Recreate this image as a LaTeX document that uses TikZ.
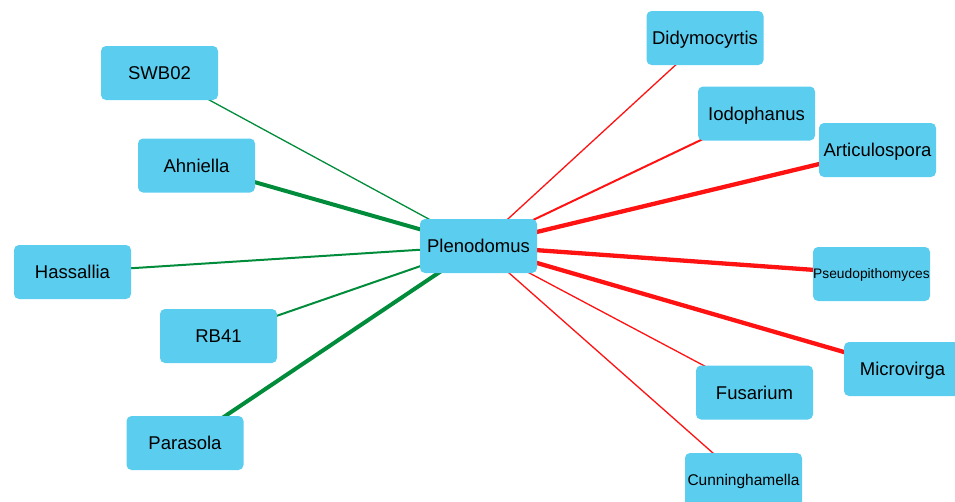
\documentclass[tikz,border=0pt]{standalone}
\usepackage{fontspec}
\setmainfont{Liberation Sans}
\usetikzlibrary{backgrounds}
\definecolor{boxblue}{RGB}{91,206,240}
\definecolor{egreen}{RGB}{0,140,58}
\definecolor{ered}{RGB}{255,18,18}
\begin{document}
\begin{tikzpicture}[x=1pt,y=-1pt,
  box/.style={fill=boxblue, rounded corners=5pt, minimum width=117pt, minimum height=54pt, inner sep=0pt, text height=13.25pt, text depth=0pt, font=\fontsize{18.5}{20}\selectfont},
  smallbox/.style={box, text height=9.9pt, font=\fontsize{13.8}{15}\selectfont},
  midbox/.style={box, text height=11.1pt, font=\fontsize{15.5}{17}\selectfont},
  gthin/.style={draw=egreen, line width=1.3pt},
  gmed/.style={draw=egreen, line width=2pt},
  gthick/.style={draw=egreen, line width=4pt},
  rthin/.style={draw=ered, line width=1.3pt},
  rmed/.style={draw=ered, line width=2pt},
  rthick/.style={draw=ered, line width=4.3pt}]
\useasboundingbox (0,0) rectangle (955,501);
\clip (0,0) rectangle (955,501);
\node[box] (pl) at (478.5,246) {Plenodomus};
\node[box] (di) at (705,38) {Didymocyrtis};
\node[box] (io) at (756.5,113.5) {Iodophanus};
\node[box] (ar) at (877.5,150) {Articulospora};
\node[smallbox] (ps) at (871.5,274) {Pseudopithomyces};
\node[box] (mi) at (902.5,369) {Microvirga};
\node[box] (fu) at (754.5,392.5) {Fusarium};
\node[midbox] (cu) at (743.5,480) {Cunninghamella};
\node[box] (sw) at (159.5,73) {SWB02};
\node[box] (ah) at (196.5,165.5) {Ahniella};
\node[box] (ha) at (72.5,272) {Hassallia};
\node[box] (rb) at (218.5,336) {RB41};
\node[box] (pa) at (185,443) {Parasola};
\begin{pgfonlayer}{background}
\draw[gthin] (pl.center) -- (sw.center);
\draw[gthick] (pl.center) -- (ah.center);
\draw[gmed] (pl.center) -- (ha.center);
\draw[gmed] (pl.center) -- (rb.center);
\draw[gthick] (pl.center) -- (pa.center);
\draw[rthin] (pl.center) -- (di.center);
\draw[rmed] (pl.center) -- (io.center);
\draw[rthick] (pl.center) -- (ar.center);
\draw[rthick] (pl.center) -- (ps.center);
\draw[rthick] (pl.center) -- (mi.center);
\draw[rthin] (pl.center) -- (fu.center);
\draw[rthin] (pl.center) -- (cu.center);
\end{pgfonlayer}
\end{tikzpicture}
\end{document}
